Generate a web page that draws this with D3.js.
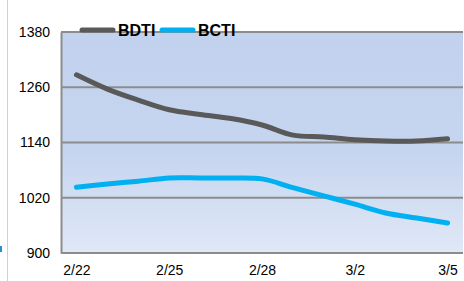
<!DOCTYPE html>
<html>
<head>
<meta charset="utf-8">
<script src="https://cdn.jsdelivr.net/npm/d3@7"></script>
<style>
  body { margin: 0; background: #fff; }
  svg { display: block; }
  text { font-family: "Liberation Sans Narrow", "Liberation Sans", Arial, sans-serif; }
</style>
</head>
<body>
<svg width="464" height="281"></svg>
<script>
const WIDTH = 464;
const HEIGHT = 281;
const PLOT = {left: 61, right: 463, top: 32, bottom: 253};

const BDTI_COLOR = '#595959';
const BCTI_COLOR = '#00b0f0';
const GRID_COLOR = '#8c8c8c';

// 13 category slots, only every 3rd is labelled on the axis
const days = d3.range(13);
const tickDays = [0, 3, 6, 9, 12];
const tickLabels = ['2/22', '2/25', '2/28', '3/2', '3/5'];
const yTicks = [900, 1020, 1140, 1260, 1380];

const bdti = [1287, 1256, 1232, 1211, 1201, 1192, 1178, 1156, 1152, 1146, 1143, 1143, 1148];
const bcti = [1043, 1050, 1056, 1063, 1063, 1063, 1061, 1042, 1024, 1006, 987, 976, 965];

var svg = d3.select('svg');

var defs = svg.append('defs');
var grad = defs.append('linearGradient')
    .attr('id', 'bg')
    .attr('x1', 0).attr('y1', 0).attr('x2', 0).attr('y2', 1);
grad.append('stop').attr('offset', '0%').attr('stop-color', '#c2d2ee');
grad.append('stop').attr('offset', '55%').attr('stop-color', '#c6d5ef');
grad.append('stop').attr('offset', '100%').attr('stop-color', '#e0e8f6');

/* odd bits of the cropped screenshot on the left */
svg.append('line')
    .attr('x1', 7.5).attr('x2', 7.5).attr('y1', 0).attr('y2', HEIGHT)
    .attr('stroke', '#d0d0d0').attr('stroke-width', 1);
svg.append('rect')
    .attr('x', 0).attr('y', 246).attr('width', 2).attr('height', 6)
    .attr('fill', '#2a8fd0');

var x = d3.scalePoint()
    .domain(days)
    .range([PLOT.left, PLOT.right])
    .padding(0.5);

var y = d3.scaleLinear()
    .domain([900, 1380])
    .range([PLOT.bottom, PLOT.top]);

svg.append('rect')
    .attr('x', PLOT.left)
    .attr('y', PLOT.top)
    .attr('width', PLOT.right - PLOT.left)
    .attr('height', PLOT.bottom - PLOT.top)
    .attr('fill', 'url(#bg)');

/* grid lines */
svg.append('g')
    .selectAll('line')
    .data(yTicks)
    .join('line')
    .attr('x1', PLOT.left)
    .attr('x2', PLOT.right)
    .attr('y1', d => y(d))
    .attr('y2', d => y(d))
    .attr('stroke', GRID_COLOR)
    .attr('stroke-width', 2);

/* Y axis */
var yAxis = svg.append('g')
    .attr('transform', 'translate(' + PLOT.left + ',0)')
    .call(d3.axisLeft(y)
        .tickValues(yTicks)
        .tickFormat(d3.format('d'))
        .tickSize(0)
        .tickPadding(11));
yAxis.select('.domain')
    .attr('stroke', GRID_COLOR)
    .attr('stroke-width', 2);
yAxis.selectAll('text')
    .attr('font-size', 14)
    .attr('fill', '#000')
    .attr('font-family', '"Liberation Sans Narrow", Arial, sans-serif');

/* X axis */
var xAxis = svg.append('g')
    .attr('transform', 'translate(0,' + PLOT.bottom + ')')
    .call(d3.axisBottom(x)
        .tickValues(tickDays)
        .tickFormat((d, i) => tickLabels[i])
        .tickSize(0)
        .tickPadding(12));
xAxis.select('.domain').remove();
xAxis.selectAll('text')
    .attr('font-size', 14)
    .attr('fill', '#000')
    .attr('font-family', '"Liberation Sans Narrow", Arial, sans-serif');

var line = d3.line()
    .x((d, i) => x(days[i]))
    .y(d => y(d))
    .curve(d3.curveCatmullRom.alpha(0.5));

svg.append('path')
    .datum(bcti)
    .attr('fill', 'none')
    .attr('stroke', BCTI_COLOR)
    .attr('stroke-width', 5)
    .attr('stroke-linecap', 'round')
    .attr('d', line);

svg.append('path')
    .datum(bdti)
    .attr('fill', 'none')
    .attr('stroke', BDTI_COLOR)
    .attr('stroke-width', 5)
    .attr('stroke-linecap', 'round')
    .attr('d', line);

/* legend */
var legend = [
    {name: 'BDTI', color: BDTI_COLOR, x: 82},
    {name: 'BCTI', color: BCTI_COLOR, x: 162}
];
var lg = svg.append('g')
    .selectAll('g')
    .data(legend)
    .join('g')
    .attr('transform', d => 'translate(' + d.x + ',30)');
lg.append('line')
    .attr('x1', 0).attr('x2', 31)
    .attr('y1', 0).attr('y2', 0)
    .attr('stroke', d => d.color)
    .attr('stroke-width', 5)
    .attr('stroke-linecap', 'round');
lg.append('text')
    .attr('x', 36)
    .attr('y', 5.5)
    .attr('font-size', 16)
    .attr('font-weight', 'bold')
    .attr('fill', '#000')
    .text(d => d.name);
</script>
</body>
</html>
